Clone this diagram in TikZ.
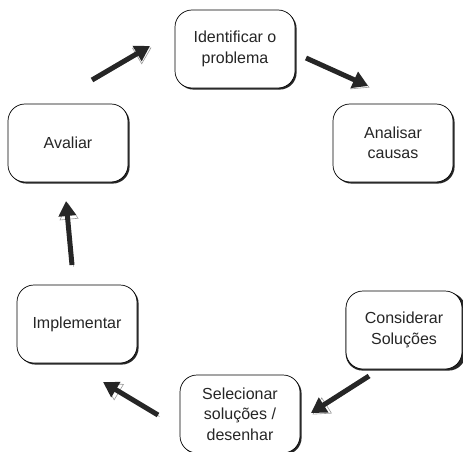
\documentclass[tikz,border=0pt]{standalone}
\usepackage{fontspec}
\setmainfont{Liberation Sans}
\usetikzlibrary{arrows.meta}
\begin{document}
\begin{tikzpicture}[x=1pt,y=-1pt,
  stepbox/.style={draw=black, line width=0.7pt, fill=white, rounded corners=17pt,
    minimum width=120pt, minimum height=78pt, align=center, inner sep=2pt,
    font=\fontsize{16}{20.5}\selectfont, text=black!85},
  shadowbox/.style={fill=black!85, rounded corners=17pt, minimum width=120pt, minimum height=78pt},
  sketcharrow/.style={line width=5pt, black!85, -{Triangle[length=15pt,width=17pt]}},
  sketchedge/.style={line width=0.6pt, black!40, -{Triangle[length=17pt,width=19pt,open]}}]
\useasboundingbox (0,0) rectangle (463,452);
% shadows
\foreach \px/\py in {235/49,393/143,68/143,77/324,404/330,240/414}{
  \node[shadowbox] at (\px+1.6,\py+1.6) {};
}
\node[stepbox] (ident) at (235,49) {Identificar o\\problema};
\node[stepbox] (anal) at (393,143) {Analisar\\causas};
\node[stepbox, minimum width=116pt] (cons) at (404,330) {Considerar\\Soluções};
\node[stepbox] (sel) at (240,414) {Selecionar\\soluções /\\desenhar};
\node[stepbox] (impl) at (77,324) {Implementar};
\node[stepbox] (aval) at (68,143) {Avaliar};
% arrow end points
\coordinate (a1s) at (306,58);  \coordinate (a1e) at (368,86);
\coordinate (a2s) at (369,376); \coordinate (a2e) at (311,413);
\coordinate (a3s) at (158,415); \coordinate (a3e) at (103,382);
\coordinate (a4s) at (72,265);  \coordinate (a4e) at (66,201);
\coordinate (a5s) at (92,80);   \coordinate (a5e) at (150,46);
\foreach \s/\e in {a1s/a1e,a2s/a2e,a3s/a3e,a4s/a4e,a5s/a5e}{
  \draw[sketchedge] ([shift={(1.5,1.5)}]\s) -- ([shift={(1.5,1.5)}]\e);
  \draw[sketcharrow] (\s) -- (\e);
}
\end{tikzpicture}
\end{document}
